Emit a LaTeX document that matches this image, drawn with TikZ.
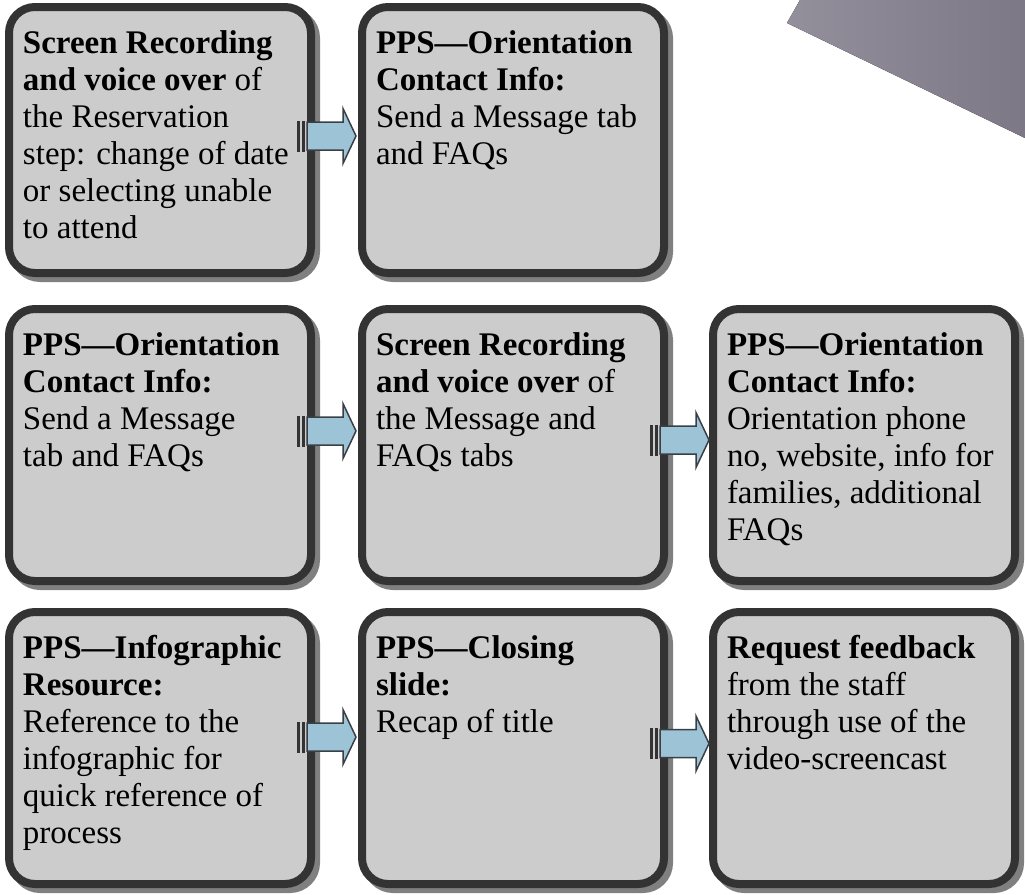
\documentclass[tikz,border=0pt]{standalone}
\usepackage{fontspec}
\setmainfont{Liberation Serif}
\usetikzlibrary{calc}
\definecolor{boxfill}{HTML}{CCCCCC}
\definecolor{boxline}{HTML}{333333}
\definecolor{shadowgray}{HTML}{808080}
\definecolor{arrowfill}{HTML}{9DC3D6}
\definecolor{arrowline}{HTML}{3A3F45}
\definecolor{slateA}{HTML}{938F9B}
\definecolor{slateB}{HTML}{7C7886}
\newcommand\boxtext[2]{\parbox[t][#1][t]{274pt}{\raggedright\strut #2}}
\newcommand\flowarrow[3]{%
  \coordinate (#1-#2) at ($(#1.east)+(-14,#3)$);
  \begin{scope}[shift={(#1-#2)}]
    \fill[boxline] (0,-15.5) rectangle (3,15.5);
    \fill[boxline] (5,-15.5) rectangle (8,15.5);
    \draw[arrowbody] (10,-14) -- (46,-14) -- (46,-27.5) -- (59,0) -- (46,27.5) -- (46,14) -- (10,14) -- cycle;
  \end{scope}}
\begin{document}
\begin{tikzpicture}[x=1pt,y=-1pt,
  box/.style={draw=boxline, line width=8pt, fill=boxfill, rounded corners=26pt,
    inner xsep=14pt, inner ysep=21pt, anchor=north west, outer sep=0pt,
    font=\fontsize{33}{37}\selectfont,
    preaction={draw=shadowgray, line width=8pt, transform canvas={shift={(5pt,-5pt)}}}},
  arrowbody/.style={draw=arrowline, line width=1.5pt, fill=arrowfill, line join=miter}]
\useasboundingbox (0,0) rectangle (1025,894);
\fill[left color=slateA, right color=slateB] (800,0) -- (787,23) -- (1025,138) -- (1025,0) -- cycle;
% row 1
\node[box] (A1) at (9,7) {\boxtext{224pt}{\textbf{Screen Recording}\\ \textbf{and voice over} of\\ the Reservation\\ step: change of date\\ or selecting unable\\ to attend}};
\node[box] (A2) at (362,7) {\boxtext{224pt}{\textbf{PPS—Orientation}\\ \textbf{Contact Info:}\\ Send a Message tab\\ and FAQs}};
% row 2
\node[box] (B1) at (9,309) {\boxtext{230pt}{\textbf{PPS—Orientation}\\ \textbf{Contact Info:}\\ Send a Message\\ tab and FAQs}};
\node[box] (B2) at (362,309) {\boxtext{230pt}{\textbf{Screen Recording}\\ \textbf{and voice over} of\\ the Message and\\ FAQs tabs}};
\node[box] (B3) at (713,309) {\boxtext{230pt}{\textbf{PPS—Orientation}\\ \textbf{Contact Info:}\\ Orientation phone\\ no, website, info for\\ families, additional\\ FAQs}};
% row 3
\node[box] (C1) at (9,612) {\boxtext{230pt}{\textbf{PPS—Infographic}\\ \textbf{Resource:}\\ Reference to the\\ infographic for\\ quick reference of\\ process}};
\node[box] (C2) at (362,612) {\boxtext{230pt}{\textbf{PPS—Closing}\\ \textbf{slide:}\\ Recap of title}};
\node[box] (C3) at (713,612) {\boxtext{230pt}{\textbf{Request feedback}\\ from the staff\\ through use of the\\ video-screencast}};
% arrows
\flowarrow{A1}{A2}{-4}
\flowarrow{B1}{B2}{-14}
\flowarrow{B2}{B3}{-5}
\flowarrow{C1}{C2}{-11}
\flowarrow{C2}{C3}{-4.5}
\end{tikzpicture}
\end{document}
